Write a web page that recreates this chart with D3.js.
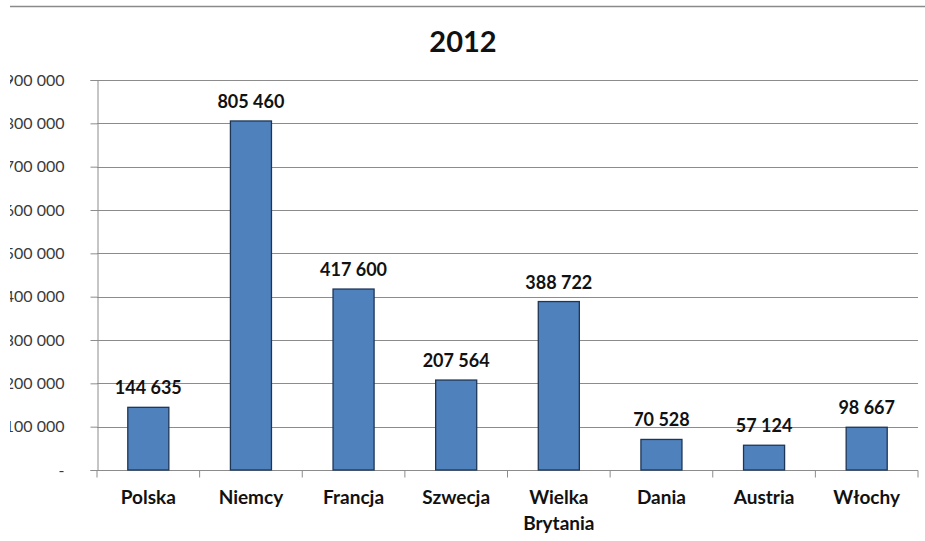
<!DOCTYPE html>
<html>
<head>
<meta charset="utf-8">
<script src="https://cdn.jsdelivr.net/npm/d3@7"></script>
<style>
  html, body { margin: 0; padding: 0; background: #fff; }
  svg { display: block; }
  text { font-family: Lato, "Open Sans", sans-serif; }
</style>
</head>
<body>
<svg id="chart" width="925" height="541"></svg>
<script>
// Liczba osób – 2012
const categories = ["Polska", "Niemcy", "Francja", "Szwecja", "Wielka Brytania", "Dania", "Austria", "Włochy"];
const values = [144635, 805460, 417600, 207564, 388722, 70528, 57124, 98667];
const yTicks = [0, 100000, 200000, 300000, 400000, 500000, 600000, 700000, 800000, 900000];
const title = "2012";

const svg = d3.select("#chart");
const W = 925, H = 541;
const margin = { left: 97, right: 7, top: 80, bottom: 71 };

const fmt = v => v === 0 ? "-" : d3.format(",")(v).replace(/,/g, " ");

// visible frame starts slightly inside the left edge
svg.append("defs").append("clipPath").attr("id", "frame")
  .append("rect").attr("x", 10).attr("y", 0).attr("width", W - 10).attr("height", H);

const g = svg.append("g").attr("clip-path", "url(#frame)");

// top border line
g.append("line")
  .attr("x1", 10).attr("x2", W).attr("y1", 6.5).attr("y2", 6.5)
  .attr("stroke", "#8a8a8a").attr("stroke-width", 1.5);

const x = d3.scaleBand().domain(categories)
  .range([margin.left, W - margin.right]).paddingInner(0.6).paddingOuter(0.3);
const y = d3.scaleLinear().domain([0, 900000]).range([H - margin.bottom, margin.top]);

// gridlines
g.append("g").selectAll("line").data(yTicks.filter(d => d > 0)).join("line")
  .attr("x1", margin.left).attr("x2", W - margin.right)
  .attr("y1", d => Math.round(y(d)) + 0.5).attr("y2", d => Math.round(y(d)) + 0.5)
  .attr("stroke", "#8c8c8c").attr("stroke-width", 1);

// y axis
const yAxis = g.append("g").attr("transform", `translate(${margin.left + 0.5},0)`)
  .call(d3.axisLeft(y).tickValues(yTicks).tickFormat(fmt).tickSize(7).tickPadding(26));
yAxis.select(".domain").attr("stroke", "#8c8c8c");
yAxis.selectAll(".tick line").attr("stroke", "#8c8c8c");
yAxis.selectAll(".tick text")
  .attr("font-size", 16).attr("fill", "#3a3a3a")
  .attr("font-family", "Lato, sans-serif");

// x axis with ticks at category boundaries
const xBase = Math.round(y(0)) + 0.5;
g.append("line")
  .attr("x1", margin.left).attr("x2", W - margin.right)
  .attr("y1", xBase).attr("y2", xBase)
  .attr("stroke", "#8c8c8c");
g.append("g").selectAll("line").data(d3.range(categories.length + 1)).join("line")
  .attr("x1", i => margin.left + i * x.step())
  .attr("x2", i => margin.left + i * x.step())
  .attr("y1", xBase).attr("y2", xBase + 7)
  .attr("stroke", "#8c8c8c");

// bars
g.append("g").selectAll("rect").data(categories).join("rect")
  .attr("x", d => x(d))
  .attr("width", x.bandwidth())
  .attr("y", (d, i) => y(values[i]))
  .attr("height", (d, i) => y(0) - y(values[i]))
  .attr("fill", "#4f81bd")
  .attr("stroke", "#1e3656").attr("stroke-width", 1.3);

// value labels
g.append("g").selectAll("text").data(categories).join("text")
  .attr("x", d => x(d) + x.bandwidth() / 2)
  .attr("y", (d, i) => y(values[i]) - 13)
  .attr("text-anchor", "middle")
  .attr("font-size", 18).attr("font-weight", "bold").attr("fill", "#111")
  .text((d, i) => fmt(values[i]));

// category labels (wrapped on spaces)
const cl = g.append("g").selectAll("text").data(categories).join("text")
  .attr("x", d => x(d) + x.bandwidth() / 2)
  .attr("y", 504)
  .attr("text-anchor", "middle")
  .attr("font-size", 19).attr("font-weight", "bold").attr("fill", "#111");
cl.each(function(d) {
  const t = d3.select(this);
  d.split(" ").forEach((w, i) => {
    t.append("tspan").attr("x", x(d) + x.bandwidth() / 2).attr("dy", i ? 26 : 0).text(w);
  });
});

// title
g.append("text")
  .attr("x", 463).attr("y", 52)
  .attr("text-anchor", "middle")
  .attr("font-size", 29).attr("font-weight", "bold").attr("fill", "#111")
  .text(title);
</script>
</body>
</html>
